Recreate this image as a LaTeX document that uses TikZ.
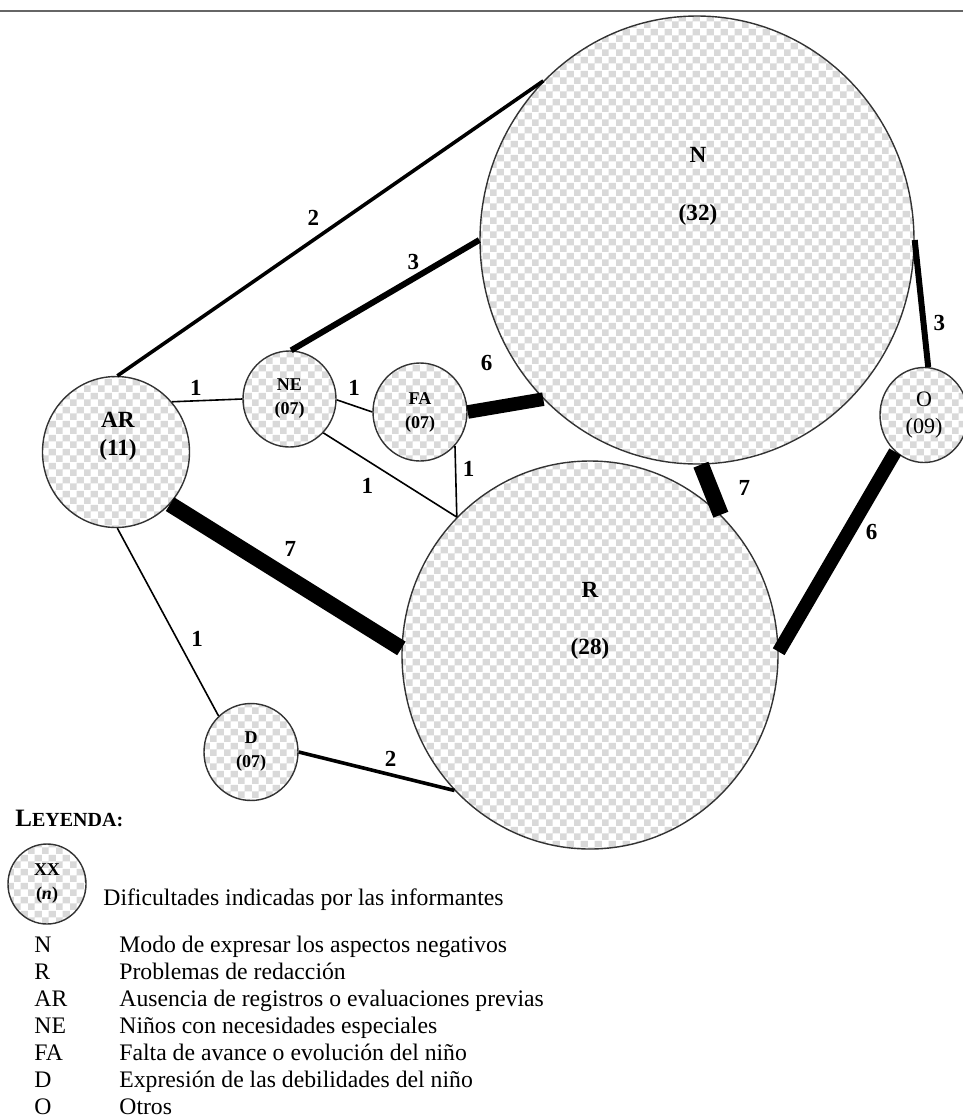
\documentclass[tikz,border=0pt]{standalone}
\usepackage{fontspec}
\setmainfont{Liberation Serif}
\usetikzlibrary{patterns}
\usetikzlibrary{shapes.geometric}

\pgfdeclarepatterninherentlycolored{checks}{\pgfpointorigin}{\pgfqpoint{7pt}{7pt}}{\pgfqpoint{7pt}{7pt}}{%
\pgfsetfillcolor{gray!30}%
\pgfpathrectangle{\pgfpointorigin}{\pgfqpoint{3.5pt}{3.5pt}}%
\pgfpathrectangle{\pgfqpoint{3.5pt}{3.5pt}}{\pgfqpoint{3.5pt}{3.5pt}}%
\pgfusepath{fill}}

\begin{document}
\begin{tikzpicture}[x=0.5pt, y=-0.5pt,
bubble/.style={ellipse, draw=black!80, line width=0.7pt, pattern=checks, preaction={fill=white}, inner sep=0pt, align=center},
bigtag/.style={font=\bfseries\fontsize{11.6}{14}\selectfont, align=center, inner sep=0pt},
smalltag/.style={font=\bfseries\fontsize{9}{12}\selectfont},
num/.style={font=\bfseries\fontsize{11.5}{14}\selectfont, inner sep=0pt},
link1/.style={line width=0.8pt},
link2/.style={line width=1.8pt},
link3/.style={line width=3pt},
link6/.style={line width=6.8pt},
link7/.style={line width=8pt},
legkey/.style={anchor=base west, inner sep=0pt, font=\fontsize{11.85}{14}\selectfont},
]
\useasboundingbox (0,0) rectangle (963,1120);
\draw[black!60, line width=1pt] (0,11) -- (963,11);

% circles
\node[bubble, minimum width=217pt, minimum height=224pt](N) at (697,240){};
\node[bubble, minimum width=188pt, minimum height=194pt](R) at (590,655){};
\node[bubble, minimum width=73.5pt, minimum height=75.5pt](AR) at (116,452){};
\node[bubble, smalltag, minimum width=46.5pt, minimum height=48pt](NE) at (289.5,399){NE\\(07)};
\node[bubble, smalltag, minimum width=47pt, minimum height=49pt](FA) at (420,412){FA\\(07)};
\node[bubble, smalltag, minimum width=47pt, minimum height=48.5pt](D) at (251,752){D\\(07)};
\node[bubble, font=\fontsize{11}{13.5}\selectfont, minimum width=44pt, minimum height=47.5pt](O) at (924,415){O\\(09)};
\node[bigtag](Ntag) at (698,186){N\\[15pt](32)};
\node[bigtag](Rtag) at (590,621){R\\[14.5pt](28)};
\node[bigtag](ARtag) at (118,436){AR\\(11)};

% links
\draw[link2] (AR.89) -- node[num, pos=.46, shift={(0,-22)}](c1){2} (N.134);
\draw[link3] (NE.88) -- node[num, pos=.65, shift={(0,-17)}](c2){3} (N.180);
\draw[link1] (AR.42) -- node[num, pos=.34, shift={(0,-13)}](c3){1} (NE.180);
\draw[link1] (NE.-1) -- node[num, pos=.49, shift={(0,-18)}](c4){1} (FA.180);
\draw[link6] (FA.0) -- node[num, pos=.25, shift={(0,-46)}](c5){6} (N.226);
\draw[link1] (FA.-44) -- node[num, pos=.33, shift={(13,0)}](c6){1} (R.134);
\draw[link1] (NE.-45) -- node[num, pos=.33, shift={(0,25)}](c7){1} (R.134);
\draw[link7] (N.-89) -- node[num, pos=.47, shift={(34,0)}](c8){7} (R.47);
\draw[link3] (N.0) -- node[num, pos=.65, shift={(16,0)}](c9){3} (O.85);
\draw[link6] (O.232) -- node[num, pos=.4, shift={(23,0)}](c10){6} (R.1);
\draw[link7] (AR.-44) -- node[num, pos=.52, shift={(0,-30)}](c11){7} (R.178.5);
\draw[link1] (AR.-89) -- node[num, pos=.59, shift={(20,0)}](c12){1} (D.132);
\draw[link2] (D.0) -- node[num, pos=.59, shift={(0,-16)}](c13){2} (R.225);

% legend
\node[legkey, font=\bfseries\fontsize{12.5}{15}\selectfont](ley) at (15,826){L\fontsize{10}{12}\selectfont EYENDA:};
\node[bubble, smalltag, minimum width=39pt, minimum height=40pt](XX) at (47,884){XX\\(\textit{n})};
\node[legkey](dXX) at (103,905){Dificultades indicadas por las informantes};
\node[legkey](kN) at (34,952){N};
\node[legkey](dN) at (119,952){Modo de expresar los aspectos negativos};
\node[legkey](kR) at (34,979){R};
\node[legkey](dR) at (119,979){Problemas de redacción};
\node[legkey](kAR) at (34,1006){AR};
\node[legkey](dAR) at (119,1006){Ausencia de registros o evaluaciones previas};
\node[legkey](kNE) at (34,1033){NE};
\node[legkey](dNE) at (119,1033){Niños con necesidades especiales};
\node[legkey](kFA) at (34,1060){FA};
\node[legkey](dFA) at (119,1060){Falta de avance o evolución del niño};
\node[legkey](kD) at (34,1087){D};
\node[legkey](dD) at (119,1087){Expresión de las debilidades del niño};
\node[legkey](kO) at (34,1114){O};
\node[legkey](dO) at (119,1114){Otros};
\end{tikzpicture}
\end{document}
